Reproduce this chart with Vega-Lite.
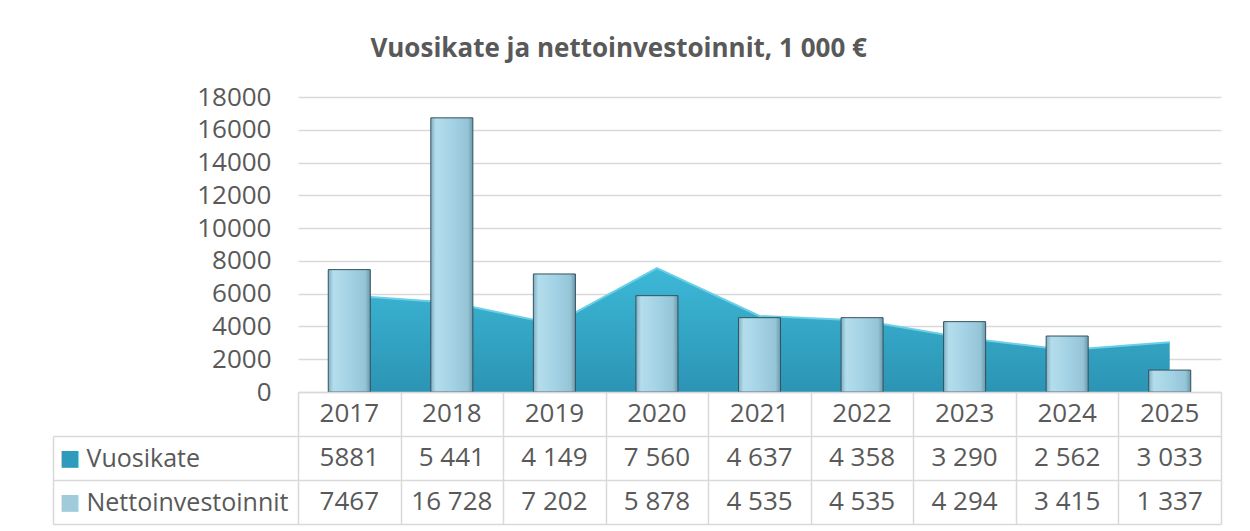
{
  "$schema": "https://vega.github.io/schema/vega-lite/v6.json",
  "padding": {"left": 52, "top": 36, "right": 5, "bottom": 5},
  "background": "white",
  "config": {"view": {"stroke": null}, "font": "Open Sans"},
  "title": {"text": "Vuosikate ja nettoinvestoinnit, 1 000 €", "font": "Open Sans", "fontSize": 26, "fontWeight": "bold", "color": "#595959", "anchor": "middle", "offset": 22, "dx": -18},
  "datasets": {
    "main": [
      {"year": "2017", "vuosikate": 5881, "netto": 7467},
      {"year": "2018", "vuosikate": 5441, "netto": 16728},
      {"year": "2019", "vuosikate": 4149, "netto": 7202},
      {"year": "2020", "vuosikate": 7560, "netto": 5878},
      {"year": "2021", "vuosikate": 4637, "netto": 4535},
      {"year": "2022", "vuosikate": 4358, "netto": 4535},
      {"year": "2023", "vuosikate": 3290, "netto": 4294},
      {"year": "2024", "vuosikate": 2562, "netto": 3415},
      {"year": "2025", "vuosikate": 3033, "netto": 1337}
    ],
    "table": [
      {"year": "2017", "row": "h", "text": "2017"},
      {"year": "2018", "row": "h", "text": "2018"},
      {"year": "2019", "row": "h", "text": "2019"},
      {"year": "2020", "row": "h", "text": "2020"},
      {"year": "2021", "row": "h", "text": "2021"},
      {"year": "2022", "row": "h", "text": "2022"},
      {"year": "2023", "row": "h", "text": "2023"},
      {"year": "2024", "row": "h", "text": "2024"},
      {"year": "2025", "row": "h", "text": "2025"},
      {"year": "2017", "row": "Vuosikate", "text": "5881"},
      {"year": "2018", "row": "Vuosikate", "text": "5 441"},
      {"year": "2019", "row": "Vuosikate", "text": "4 149"},
      {"year": "2020", "row": "Vuosikate", "text": "7 560"},
      {"year": "2021", "row": "Vuosikate", "text": "4 637"},
      {"year": "2022", "row": "Vuosikate", "text": "4 358"},
      {"year": "2023", "row": "Vuosikate", "text": "3 290"},
      {"year": "2024", "row": "Vuosikate", "text": "2 562"},
      {"year": "2025", "row": "Vuosikate", "text": "3 033"},
      {"year": "2017", "row": "Nettoinvestoinnit", "text": "7467"},
      {"year": "2018", "row": "Nettoinvestoinnit", "text": "16 728"},
      {"year": "2019", "row": "Nettoinvestoinnit", "text": "7 202"},
      {"year": "2020", "row": "Nettoinvestoinnit", "text": "5 878"},
      {"year": "2021", "row": "Nettoinvestoinnit", "text": "4 535"},
      {"year": "2022", "row": "Nettoinvestoinnit", "text": "4 535"},
      {"year": "2023", "row": "Nettoinvestoinnit", "text": "4 294"},
      {"year": "2024", "row": "Nettoinvestoinnit", "text": "3 415"},
      {"year": "2025", "row": "Nettoinvestoinnit", "text": "1 337"}
    ]
  },
  "vconcat": [
    {
      "width": 923,
      "height": 295,
      "data": {"name": "main"},
      "encoding": {
        "x": {"field": "year", "type": "nominal", "scale": {"paddingInner": 0, "paddingOuter": 0}, "axis": null}
      },
      "layer": [
        {
          "mark": {"type": "area", "interpolate": "linear",
            "color": {"gradient": "linear", "x1": 0, "y1": 0, "x2": 0, "y2": 1,
              "stops": [{"offset": 0, "color": "#3DB8D7"}, {"offset": 1, "color": "#2C94B4"}]}},
          "encoding": {
            "x": {"field": "year", "type": "nominal", "bandPosition": 0.5},
            "y": {"field": "vuosikate", "type": "quantitative",
              "scale": {"domain": [0, 18000]},
              "axis": {"values": [0, 2000, 4000, 6000, 8000, 10000, 12000, 14000, 16000, 18000], "format": "d", "title": null,
                "labelFontSize": 26, "labelColor": "#595959", "labelPadding": 27, "ticks": false, "domain": false,
                "labelOverlap": false, "gridColor": "#D9D9D9", "gridWidth": 1.5}}
          }
        },
        {
          "mark": {"type": "line", "interpolate": "linear", "color": "#6ACFE7", "strokeWidth": 2},
          "encoding": {
            "x": {"field": "year", "type": "nominal", "bandPosition": 0.5},
            "y": {"field": "vuosikate", "type": "quantitative",
              "scale": {"domain": [0, 18000]},
              "axis": {"values": [0, 2000, 4000, 6000, 8000, 10000, 12000, 14000, 16000, 18000], "format": "d", "title": null,
                "labelFontSize": 26, "labelColor": "#595959", "labelPadding": 27, "ticks": false, "domain": false,
                "labelOverlap": false, "gridColor": "#D9D9D9", "gridWidth": 1.5}}
          }
        },
        {
          "mark": {"type": "bar", "width": {"band": 0.41}, "stroke": "#34525E", "strokeWidth": 1,
            "color": {"gradient": "linear", "x1": 0, "y1": 0, "x2": 1, "y2": 0,
              "stops": [{"offset": 0, "color": "#7FAFC2"}, {"offset": 0.12, "color": "#B4DDEC"}, {"offset": 0.5, "color": "#A4D3E5"}, {"offset": 0.88, "color": "#95C4D6"}, {"offset": 1, "color": "#6A99AB"}]}},
          "encoding": {
            "y": {"field": "netto", "type": "quantitative",
              "scale": {"domain": [0, 18000]},
              "axis": {"values": [0, 2000, 4000, 6000, 8000, 10000, 12000, 14000, 16000, 18000], "format": "d", "title": null,
                "labelFontSize": 26, "labelColor": "#595959", "labelPadding": 27, "ticks": false, "domain": false,
                "labelOverlap": false, "gridColor": "#D9D9D9", "gridWidth": 1.5}}
          }
        }
      ]
    },
    {
      "width": 923,
      "height": 132,
      "data": {"name": "table"},
      "encoding": {
        "x": {"field": "year", "type": "nominal", "scale": {"paddingInner": 0, "paddingOuter": 0},
          "axis": {"title": null, "labels": false, "ticks": false, "domain": false, "grid": true, "tickBand": "extent", "gridColor": "#D9D9D9", "gridWidth": 1.5}}
      },
      "layer": [
        {
          "mark": {"type": "text", "fontSize": 26, "color": "#595959", "font": "Open Sans"},
          "encoding": {
            "y": {"field": "row", "type": "nominal", "sort": ["h", "Vuosikate", "Nettoinvestoinnit"],
              "scale": {"paddingInner": 0, "paddingOuter": 0},
              "axis": {"title": null, "orient": "left", "ticks": false, "domain": false, "grid": true, "tickBand": "extent",
                "gridColor": "#D9D9D9", "gridWidth": 1.5, "labelAlign": "left", "labelPadding": 212, "labelLimit": 0,
                "labelFontSize": 25, "labelColor": "#595959", "labelFont": "Open Sans",
                "labelExpr": "datum.value === 'h' ? '' : datum.value"}},
            "text": {"field": "text"}
          }
        },
        {
          "mark": {"type": "text", "opacity": 0},
          "encoding": {
            "y": {"field": "row", "type": "nominal", "sort": ["h", "Vuosikate", "Nettoinvestoinnit"],
              "axis": {"title": null, "orient": "left", "ticks": true, "tickSize": 245, "bandPosition": 1, "tickWidth": 1.5,
                "tickColor": "#D9D9D9",
                "domain": false, "grid": false, "labelAlign": "left", "labelPadding": -6,
                "labelFont": "DejaVu Sans", "labelFontSize": 22,
                "labelColor": {"condition": {"test": "datum.value === 'Vuosikate'", "value": "#2E9BBC"}, "value": "#9FCBDB"},
                "labelExpr": "datum.value === 'Vuosikate' || datum.value === 'Nettoinvestoinnit' ? '■' : ''"}},
            "text": {"field": "text"}
          }
        },
        {
          "mark": {"type": "text", "opacity": 0},
          "encoding": {
            "y": {"field": "row", "type": "nominal", "sort": ["h", "Vuosikate", "Nettoinvestoinnit"],
              "axis": {"title": null, "orient": "left", "offset": 245, "ticks": false, "labels": false, "grid": false,
                "domain": true, "domainColor": "#D9D9D9", "domainWidth": 1.5, "domainDash": [88, 44], "domainDashOffset": 88}},
            "text": {"field": "text"}
          }
        }
      ],
      "resolve": {"axis": {"y": "independent"}}
    }
  ],
  "spacing": 0,
  "bounds": "flush"
}
